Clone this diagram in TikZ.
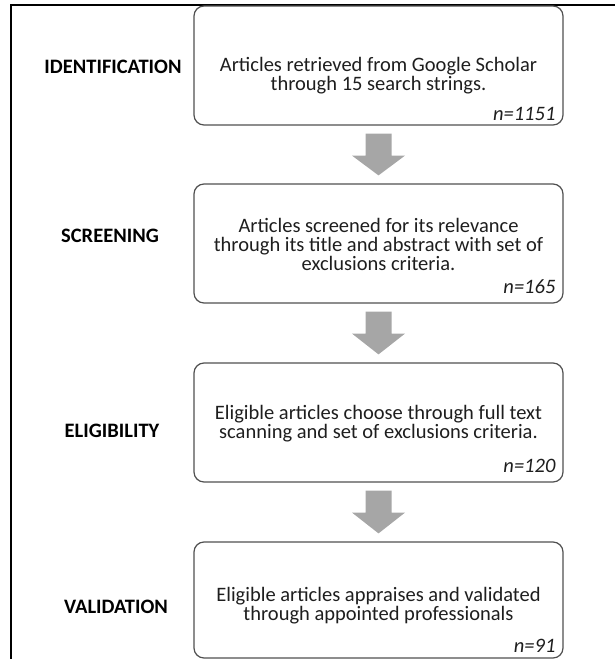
\documentclass[tikz,border=0pt]{standalone}
\usepackage{fontspec}
\setmainfont{Carlito}
\usetikzlibrary{calc}
\definecolor{boxgray}{HTML}{505050}
\definecolor{arrowgray}{HTML}{A6A6A6}
\definecolor{txt}{HTML}{1E1E1E}
\newcommand\flowarrow[2]{%
  \fill[flow] ($(#1.south)+(-13,8)$) -- ($(#1.south)+(13,8)$) -- ($(#1.south)+(13,30)$)
    -- ($(#1.south)+(26.5,30)$) -- ($(#2.north)+(0,-8)$) -- ($(#1.south)+(-26.5,30)$)
    -- ($(#1.south)+(-13,30)$) -- cycle;}
\begin{document}
\begin{tikzpicture}[x=1pt,y=-1pt,
  box/.style={draw=boxgray, line width=1.2pt, rounded corners=10pt, minimum width=369pt, inner sep=0pt},
  body/.style={font=\fontsize{20.5}{19}\selectfont, align=center, text=txt, inner sep=0pt},
  cnt/.style={font=\fontsize{20.5}{20}\selectfont\itshape, anchor=base east, text=txt, inner sep=0pt},
  stage/.style={font=\fontsize{20.5}{20}\selectfont\bfseries, anchor=base, text=black, inner sep=0pt},
  flow/.style={fill=arrowgray}]
\useasboundingbox (0,0) rectangle (615,659);
\draw[line width=2pt, line join=miter] (11,659) -- (11,5) -- (615,5);
% boxes
\node[box, minimum height=119pt] (b1) at (378.5,65.5) {};
\node[box, minimum height=119pt] (b2) at (378.5,243.5) {};
\node[box, minimum height=119pt] (b3) at (378.5,422.5) {};
\node[box, minimum height=116pt] (b4) at (378.5,600) {};
% texts
\node[body] (t1) at ($(b1.center)+(0,10)$) {Articles retrieved from Google Scholar\\through 15 search strings.};
\node[body] (t2) at ($(b2.center)+(0,1)$) {Articles screened for its relevance\\through its title and abstract with set of\\exclusions criteria.};
\node[body] (t3) at ($(b3.center)+(0,1)$) {Eligible articles choose through full text\\scanning and set of exclusions criteria.};
\node[body] (t4) at ($(b4.center)+(0,6)$) {Eligible articles appraises and validated\\through appointed professionals};
% counts
\node[cnt] (n1) at ($(b1.south east)+(-8,-5)$) {n=1151};
\node[cnt] (n2) at ($(b2.south east)+(-8,-10)$) {n=165};
\node[cnt] (n3) at ($(b3.south east)+(-8,-10)$) {n=120};
\node[cnt] (n4) at ($(b4.south east)+(-8,-6)$) {n=91};
% stage labels
\node[stage] (s1) at (113,73) {IDENTIFICATION};
\node[stage] (s2) at (110,242) {SCREENING};
\node[stage] (s3) at (112,437) {ELIGIBILITY};
\node[stage] (s4) at (116,613) {VALIDATION};
% arrows
\flowarrow{b1}{b2}
\flowarrow{b2}{b3}
\flowarrow{b3}{b4}
\end{tikzpicture}
\end{document}
